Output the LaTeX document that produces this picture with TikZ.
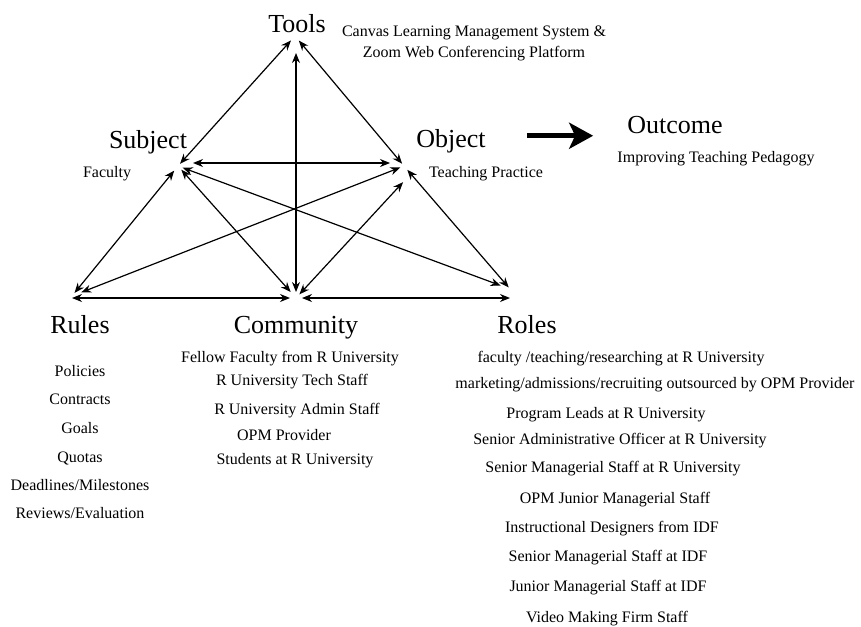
\documentclass[tikz,border=0pt]{standalone}
\usepackage{fontspec}
\setmainfont{Liberation Serif}
\usetikzlibrary{arrows.meta, positioning, calc}

\begin{document}
\begin{tikzpicture}[x=1pt, y=-1pt]
% Define styles
\tikzstyle{heading} = [font=\fontsize{26}{30}\selectfont, anchor=base, inner sep=0pt]
\tikzstyle{entry} = [font=\fontsize{16}{19}\selectfont, anchor=base, inner sep=0pt]
\tikzstyle{arrow} = [line width=1.2pt, {Stealth[length=10pt,width=8pt]}-{Stealth[length=10pt,width=8pt]}]
\tikzstyle{bigarrow} = [line width=5pt, -{Stealth[length=24pt,width=26pt,inset=6pt]}]

\fill[white] (0,0) rectangle (861,626);
\useasboundingbox (0,0) rectangle (861,626);

% Corner points
\coordinate (tv) at (295,36);
\coordinate (sv) at (178,166);
\coordinate (ov) at (404,166);
\coordinate (rv) at (72,296);
\coordinate (cv) at (296,298);
\coordinate (lv) at (510,289);

% Headings
\node (tools) [heading] at (297,33) {Tools};
\node (subject) [heading] at (148,148) {Subject};
\node (object) [heading] at (451,147) {Object};
\node (outcome) [heading] at (675,133) {Outcome};
\node (rules) [heading] at (80,333) {Rules};
\node (community) [heading] at (296,333) {Community};
\node (roles) [heading] at (527,333) {Roles};

% Descriptions
\node (canvas) [entry] at (474,37) {Canvas Learning Management System \&};
\node (zoom) [entry] at (474,57) {Zoom Web Conferencing Platform};
\node (faculty) [entry] at (107,177) {Faculty};
\node (practice) [entry] at (486,177) {Teaching Practice};
\node (pedagogy) [entry] at (716,162) {Improving Teaching Pedagogy};

% Rules list
\node (policies) [entry] at (80,376) {Policies};
\node (contracts) [entry] at (80,404) {Contracts};
\node (goals) [entry] at (80,433) {Goals};
\node (quotas) [entry] at (80,462) {Quotas};
\node (deadlines) [entry] at (80,490) {Deadlines/Milestones};
\node (reviews) [entry] at (80,518) {Reviews/Evaluation};

% Community list
\node (fellow) [entry] at (290,362) {Fellow Faculty from R University};
\node (tech) [entry] at (292,385) {R University Tech Staff};
\node (admin) [entry] at (297,414) {R University Admin Staff};
\node (opm) [entry] at (284,440) {OPM Provider};
\node (students) [entry] at (295,464) {Students at R University};

% Roles list
\node (role1) [entry] at (621,362) {faculty /teaching/researching at R University};
\node (role2) [entry] at (655,388) {marketing/admissions/recruiting outsourced by OPM Provider};
\node (role3) [entry] at (606,418) {Program Leads at R University};
\node (role4) [entry] at (620,444) {Senior Administrative Officer at R University};
\node (role5) [entry] at (613,472) {Senior Managerial Staff at R University};
\node (role6) [entry] at (615,503) {OPM Junior Managerial Staff};
\node (role7) [entry] at (612,532) {Instructional Designers from IDF};
\node (role8) [entry] at (608,561) {Senior Managerial Staff at IDF};
\node (role9) [entry] at (608,591) {Junior Managerial Staff at IDF};
\node (role10) [entry] at (607,622) {Video Making Firm Staff};

% Connections
\draw [arrow, shorten <=3pt, shorten >=6pt] (sv) -- (tv);
\draw [arrow, shorten <=3pt, shorten >=6pt] (ov) -- (tv);
\draw [arrow, shorten <=6pt, shorten >=17pt] (cv) -- (cv |- tv);
\draw [arrow, shorten <=15pt, shorten >=14pt] ([yshift=3pt]sv) -- ([yshift=3pt]ov);
\draw [arrow, shorten <=6pt, shorten >=4pt] (sv) -- (rv);
\draw [arrow, shorten <=5pt, shorten >=2pt] (ov) -- (lv);
\draw [arrow, shorten >=6pt] (rv |- cv) -- (cv);
\draw [arrow, shorten <=6pt] (cv) -- (cv -| lv);
\draw [arrow, shorten <=5pt, shorten >=8pt] (sv) -- (cv);
\draw [arrow, shorten <=22pt, shorten >=5pt] ([xshift=14pt]ov) -- (cv);
\draw [arrow, shorten <=5pt, shorten >=10pt] (sv) -- (lv);
\draw [arrow, shorten <=4pt, shorten >=10pt] (ov) -- (rv);

% Outcome arrow
\draw [bigarrow, shorten <=41pt, shorten >=34pt] ([yshift=5pt]object.east) -- ([yshift=5pt]object.east -| outcome.west);

\end{tikzpicture}
\end{document}
